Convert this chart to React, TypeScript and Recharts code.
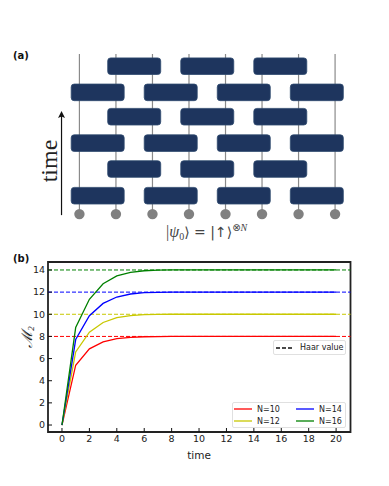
import React from "react";
import {
  ScatterChart,
  Scatter,
  LineChart,
  Line,
  XAxis,
  YAxis,
  ReferenceLine,
  ReferenceArea,
  Legend,
} from "recharts";

// panel (a): circuit layout in wire / layer units
const wires = [0, 1, 2, 3, 4, 5, 6, 7];
const evenLayers = [0, 2.03, 3.99];
const oddLayers = [1.03, 3.05, 5];
const evenGates = [0.5, 2.5, 4.5, 6.5];
const oddGates = [1.5, 3.5, 5.5];

const gatePoints = [
  ...evenLayers.flatMap((y) => evenGates.map((x) => ({ x, y }))),
  ...oddLayers.flatMap((y) => oddGates.map((x) => ({ x, y }))),
];
const qubitPoints = wires.map((x) => ({ x, y: -0.71 }));
const arrowTip = [{ x: -0.49, y: 3.23 }];

// panel (b): values
const time = [0, 1, 2, 3, 4, 5, 6, 7, 8, 9, 10, 11, 12, 13, 14, 15, 16, 17, 18, 19, 20];
const n10 = [0, 5.4, 6.88, 7.5, 7.8, 7.92, 7.97, 7.99, 8, 8, 8, 8, 8, 8, 8, 8, 8, 8, 8, 8, 8];
const n12 = [0, 6.6, 8.39, 9.26, 9.69, 9.88, 9.96, 9.99, 10, 10, 10, 10, 10, 10, 10, 10, 10, 10, 10, 10, 10];
const n14 = [0, 7.72, 9.87, 10.98, 11.56, 11.83, 11.95, 11.98, 12, 12, 12, 12, 12, 12, 12, 12, 12, 12, 12, 12, 12];
const n16 = [0, 8.8, 11.35, 12.76, 13.46, 13.79, 13.93, 13.98, 14, 14, 14, 14, 14, 14, 14, 14, 14, 14, 14, 14, 14];

const rows = time.map((t, i) => ({ t, n10: n10[i], n12: n12[i], n14: n14[i], n16: n16[i] }));

const xTicks = [0, 2, 4, 6, 8, 10, 12, 14, 16, 18, 20];
const yTicks = [0, 2, 4, 6, 8, 10, 12, 14];

const series = [
  { key: "n10", name: "N=10", color: "#ff0000", haar: 8 },
  { key: "n12", name: "N=12", color: "#c8c800", haar: 10 },
  { key: "n14", name: "N=14", color: "#0000ff", haar: 12 },
  { key: "n16", name: "N=16", color: "#008000", haar: 14 },
];

const sans = "'DejaVu Sans', sans-serif";
const ink = "#222222";

const Gate = (props: any) => (
  <rect
    x={props.cx - 26.5}
    y={props.cy - 8.3}
    width={53}
    height={16.6}
    rx={3}
    fill="#1e355e"
    stroke="#2e4a6e"
    strokeWidth={0.8}
  />
);

const Qubit = (props: any) => <circle cx={props.cx} cy={props.cy} r={5.2} fill="#808080" />;

const ArrowHead = (props: any) => (
  <path
    d={`M${props.cx} ${props.cy - 1} L${props.cx + 3.5} ${props.cy + 6} L${props.cx} ${props.cy + 4.5} L${props.cx - 3.5} ${props.cy + 6} Z`}
    fill="#111111"
  />
);

const Swatch = ({ color, dashed }: { color: string; dashed?: boolean }) => (
  <svg width={18} height={6} style={{ display: "block", flex: "none" }}>
    <line x1={0} x2={18} y1={3} y2={3} stroke={color} strokeWidth={1.3} strokeDasharray={dashed ? "4 2" : undefined} />
  </svg>
);

const boxStyle: React.CSSProperties = {
  boxSizing: "border-box",
  background: "#ffffff",
  border: "1px solid #e0e0e0",
  borderRadius: 2,
  fontFamily: sans,
  fontSize: 8,
  color: ink,
  whiteSpace: "nowrap",
};

const SeriesLegend = () => (
  <div style={{ ...boxStyle, width: 114, height: 26, display: "grid", gridTemplateColumns: "62px 50px", padding: "0 0 0 1px" }}>
    {[series[0], series[2], series[1], series[3]].map((s) => (
      <div key={s.key} style={{ display: "flex", alignItems: "center", gap: 5, height: 12 }}>
        <Swatch color={s.color} />
        <span>{s.name}</span>
      </div>
    ))}
  </div>
);

const HaarLegend = () => (
  <div style={{ ...boxStyle, width: 73, height: 15, display: "flex", alignItems: "center", gap: 6, paddingLeft: 2 }}>
    <Swatch color="#111111" dashed />
    <span>Haar value</span>
  </div>
);

export default function App() {
  return (
    <div style={{ position: "absolute", left: 0, top: 0, width: 389, height: 486, background: "#fff" }}>
      <div style={{ position: "absolute", left: 0, top: 0 }}>
        <ScatterChart width={389} height={250} margin={{ left: 42.9, right: 17.4, top: 53.25, bottom: 28.4 }}>
          <XAxis type="number" dataKey="x" domain={[-1, 8]} hide />
          <YAxis type="number" dataKey="y" domain={[-1, 5.5]} hide />
          {wires.map((w) => (
            <ReferenceLine
              key={w}
              segment={[
                { x: w, y: -0.71 },
                { x: w, y: 5.47 },
              ]}
              stroke="#8a8a8a"
              strokeWidth={1.2}
            />
          ))}
          <ReferenceLine
            segment={[
              { x: -0.49, y: -0.75 },
              { x: -0.49, y: 3.1 },
            ]}
            stroke="#111111"
            strokeWidth={1.2}
          />
          <Scatter data={qubitPoints} shape={Qubit} isAnimationActive={false} />
          <Scatter data={gatePoints} shape={Gate} isAnimationActive={false} />
          <Scatter data={arrowTip} shape={ArrowHead} isAnimationActive={false} />
          <text x={13} y={59} fontFamily={sans} fontSize={10} fontWeight="bold" fill="#111">
            (a)
          </text>
          <text
            transform="translate(57 161) rotate(-90)"
            textAnchor="middle"
            fontFamily="'Liberation Serif', serif"
            fontSize={24}
            fill="#222"
          >
            time
          </text>
          <text x={166} y={237} fontFamily="'Liberation Serif', serif" fontSize={16} fill="#444">
            |<tspan fontStyle="italic">ψ</tspan>
            <tspan fontSize={10} dy={3}>0</tspan>
            <tspan dy={-3} fontFamily="'DejaVu Sans', sans-serif" fontSize={14}>⟩ = |↑⟩</tspan>
            <tspan fontSize={10} dy={-6} fontFamily="'DejaVu Sans', sans-serif">⊗</tspan>
            <tspan fontSize={10} fontStyle="italic">N</tspan>
          </text>
        </ScatterChart>
      </div>
      <div style={{ position: "absolute", left: 0, top: 250 }}>
        <LineChart width={389} height={236} data={rows} margin={{ left: 18, right: 38.5, top: 12, bottom: 24 }}>
          <XAxis
            dataKey="t"
            type="number"
            domain={[-1.02, 21.05]}
            ticks={xTicks}
            height={30}
            axisLine={false}
            tickSize={-4}
            tickMargin={7}
            tickLine={{ stroke: "#111", strokeWidth: 1 }}
            tick={{ fontFamily: sans, fontSize: 9.5, fill: ink }}
            allowDataOverflow
          />
          <YAxis
            type="number"
            domain={[-0.63, 14.72]}
            ticks={yTicks}
            width={30}
            axisLine={false}
            tickSize={-4}
            tickMargin={7}
            tickLine={{ stroke: "#111", strokeWidth: 1 }}
            tick={{ fontFamily: sans, fontSize: 9.5, fill: ink }}
            allowDataOverflow
          />
          {series.map((s) => (
            <ReferenceLine key={s.key} y={s.haar} stroke={s.color} strokeWidth={1} strokeDasharray="4 2" />
          ))}
          {series.map((s) => (
            <Line
              key={s.key}
              dataKey={s.key}
              name={s.name}
              stroke={s.color}
              strokeWidth={1.3}
              dot={false}
              type="linear"
              isAnimationActive={false}
            />
          ))}
          <ReferenceArea
            x1={-1.02}
            x2={21.05}
            y1={-0.63}
            y2={14.72}
            fill="none"
            stroke="#222"
            strokeWidth={1.8}
          />
          <Legend
            layout="horizontal"
            verticalAlign="middle"
            align="center"
            content={<HaarLegend />}
            wrapperStyle={{ position: "absolute", left: 273, top: 90, width: 73, height: 15, bottom: "auto" }}
          />
          <Legend
            layout="horizontal"
            verticalAlign="middle"
            align="center"
            content={<SeriesLegend />}
            wrapperStyle={{ position: "absolute", left: 232, top: 152, width: 114, height: 26, bottom: "auto" }}
          />
          <text x={13} y={12} fontFamily={sans} fontSize={10} fontWeight="bold" fill="#111">
            (b)
          </text>
          <text x={199} y={209} textAnchor="middle" fontFamily={sans} fontSize={10.5} fill={ink}>
            time
          </text>
          <text
            transform="translate(32 87) rotate(-90)"
            textAnchor="middle"
            fontFamily="'Liberation Serif', serif"
            fontStyle="italic"
            fontSize={15}
            fill={ink}
          >
            ℳ<tspan fontSize={9} dy={2}>2</tspan>
          </text>
        </LineChart>
      </div>
    </div>
  );
}
